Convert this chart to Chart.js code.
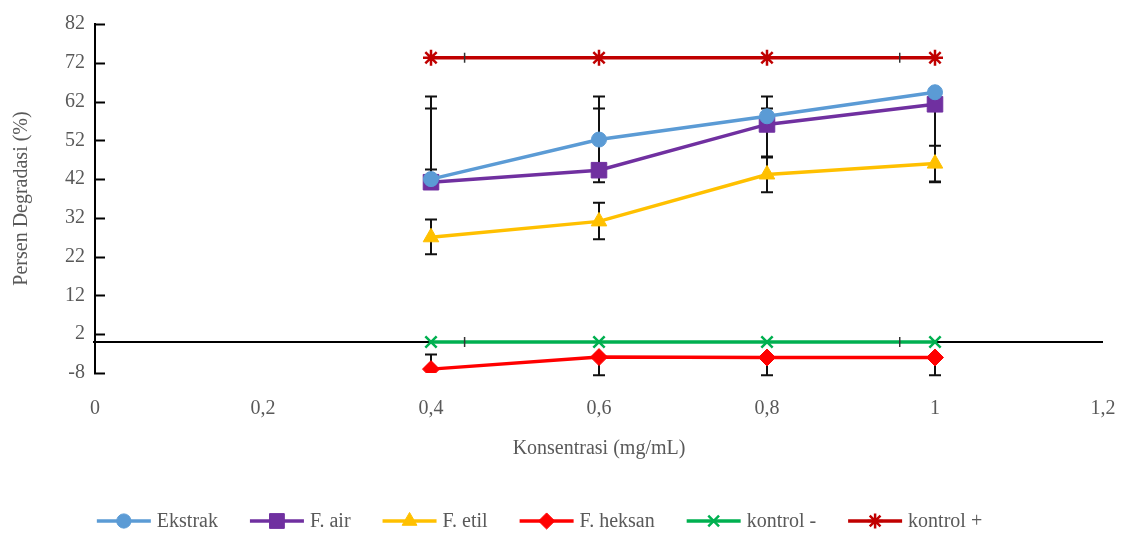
<!DOCTYPE html>
<html>
<head>
<meta charset="utf-8">
<script src="https://cdn.jsdelivr.net/npm/chart.js@4.4.1/dist/chart.umd.min.js"></script>
<style>
html,body{margin:0;padding:0;background:#fff;}
#wrap{width:1131px;height:537px;position:relative;}
</style>
</head>
<body>
<div id="wrap"><canvas id="c" width="1131" height="537"></canvas></div>
<script>
// ---- data ----
const xValues = [0.4, 0.6, 0.8, 1.0];
const ekstrak = [42, 52.2, 58.2, 64.4];
const fAir = [41.2, 44.3, 56.1, 61.3];
const fEtil = [27, 31.1, 43.2, 46];
const fHeksan = [-7, -3.9, -4, -4];
const kontrolMin = [0, 0, 0, 0];
const kontrolPlus = [73.3, 73.3, 73.3, 73.3];
// error bar ends [low, high]
const ekstrakErr = [[42, 63.3], [52.2, 63.3], [58.2, 63.3], [64.4, 64.4]];
const fAirErr = [[44.5, 60.2], [41.2, 60.2], [47.6, 60.2], [41.2, 61.3]];
const fEtilErr = [[22.6, 31.6], [26.5, 35.9], [38.6, 47.8], [41.4, 50.6]];
const fHeksanErr = [[-7, -3.2], [-8.6, -3.9], [-8.6, -4], [-8.6, -4]];
// horizontal error-bar caps seen on the control lines (x values)
const kontrolXCaps = [0.44, 0.958];
const seriesNames = ['Ekstrak', 'F. air', 'F. etil', 'F. heksan', 'kontrol -', 'kontrol +'];
const yTicks = [-8, 2, 12, 22, 32, 42, 52, 62, 72, 82];
const xTicks = [0, 0.2, 0.4, 0.6, 0.8, 1, 1.2];
const xTitle = 'Konsentrasi (mg/mL)';
const yTitle = 'Persen Degradasi (%)';

const FONT = "'Liberation Serif', 'Times New Roman', serif";
const FS = 20;
const TXT = '#595959';

function pts(vals){ return xValues.map((x,i)=>({x:x, y:vals[i]})); }

const styles = [
  {color:'#5B9BD5', pointStyle:'circle', radius:7.5},
  {color:'#7030A0', pointStyle:'rect', radius:11},
  {color:'#FFC000', pointStyle:'triangle', radius:9},
  {color:'#FF0000', pointStyle:'rectRot', radius:8.5},
  {color:'#00B050', pointStyle:'crossRot', radius:8},
  {color:'#C00000', pointStyle:'star', radius:8}
];
const allVals = [ekstrak, fAir, fEtil, fHeksan, kontrolMin, kontrolPlus];
const allErr = [ekstrakErr, fAirErr, fEtilErr, fHeksanErr, null, null];

const datasets = allVals.map((v,i)=>({
  label: seriesNames[i],
  data: pts(v),
  borderColor: styles[i].color,
  backgroundColor: styles[i].color,
  pointBackgroundColor: styles[i].color,
  pointBorderColor: styles[i].color,
  pointStyle: styles[i].pointStyle,
  pointRadius: styles[i].radius,
  pointBorderWidth: (styles[i].pointStyle==='crossRot'||styles[i].pointStyle==='star') ? 2.5 : 1,
  borderWidth: 3.5,
  tension: 0,
  fill: false,
  errBars: allErr[i],
  xCaps: (i >= 4) ? kontrolXCaps : null
}));

const decor = {
  id:'decor',
  beforeDatasetsDraw(chart){
    const ctx = chart.ctx, ys = chart.scales.y, xs = chart.scales.x, ca = chart.chartArea;
    ctx.save();
    // zero line
    const y0 = ys.getPixelForValue(0);
    ctx.strokeStyle = '#000'; ctx.lineWidth = 2;
    ctx.beginPath(); ctx.moveTo(ca.left - 2, y0); ctx.lineTo(ca.right, y0); ctx.stroke();
    // y tick marks
    yTicks.forEach(v=>{
      const yy = Math.round(ys.getPixelForValue(v)) + 0.5;
      ctx.beginPath(); ctx.moveTo(ca.left - 1, yy); ctx.lineTo(ca.left + 10, yy); ctx.stroke();
    });
    // error bars
    ctx.lineWidth = 2; ctx.strokeStyle = '#111';
    chart.data.datasets.forEach(ds=>{
      if(!ds.errBars) return;
      ds.errBars.forEach((e,i)=>{
        const px = xs.getPixelForValue(xValues[i]);
        const a = ys.getPixelForValue(e[0]), b = ys.getPixelForValue(e[1]);
        ctx.beginPath(); ctx.moveTo(px, a); ctx.lineTo(px, b);
        ctx.moveTo(px-6, a); ctx.lineTo(px+6, a);
        ctx.moveTo(px-6, b); ctx.lineTo(px+6, b);
        ctx.stroke();
      });
    });
    ctx.restore();
  },
  afterDatasetsDraw(chart){
    const ctx = chart.ctx, ys = chart.scales.y, xs = chart.scales.x;
    ctx.save();
    ctx.strokeStyle = '#333'; ctx.lineWidth = 1.5;
    chart.data.datasets.forEach(ds=>{
      if(!ds.xCaps) return;
      const yv = ys.getPixelForValue(ds.data[0].y);
      ds.xCaps.forEach(xv=>{
        const px = xs.getPixelForValue(xv);
        ctx.beginPath(); ctx.moveTo(px, yv-5); ctx.lineTo(px, yv+5); ctx.stroke();
      });
    });
    ctx.restore();
  },
  afterDraw(chart){
    // legend
    const ctx = chart.ctx;
    ctx.save();
    ctx.font = FS + "px " + FONT;
    const lineLen = 54, gapText = 6, gapItem = 32;
    const widths = seriesNames.map(n=>lineLen + gapText + ctx.measureText(n).width);
    const total = widths.reduce((a,b)=>a+b,0) + gapItem*(widths.length-1);
    let x = (chart.width - total)/2 - 26;
    const y = 521;
    seriesNames.forEach((n,i)=>{
      const st = styles[i];
      ctx.strokeStyle = st.color; ctx.fillStyle = st.color; ctx.lineWidth = 3.5;
      ctx.beginPath(); ctx.moveTo(x, y); ctx.lineTo(x+lineLen, y); ctx.stroke();
      ctx.lineWidth = (st.pointStyle==='crossRot'||st.pointStyle==='star') ? 2.5 : 1;
      Chart.helpers.drawPoint(ctx, {pointStyle: st.pointStyle, radius: st.radius*0.95, rotation:0, borderWidth: ctx.lineWidth}, x+lineLen/2, y);
      ctx.fillStyle = TXT; ctx.textBaseline = 'middle'; ctx.textAlign = 'left';
      ctx.fillText(n, x+lineLen+gapText, y+1);
      x += widths[i] + gapItem;
    });
    ctx.restore();
  }
};

new Chart(document.getElementById('c'), {
  type:'line',
  data:{datasets},
  options:{
    responsive:false,
    animation:false,
    devicePixelRatio:1,
    layout:{padding:{top:24, right:28, bottom:64, left:0}},
    plugins:{legend:{display:false}, tooltip:{enabled:false}},
    scales:{
      x:{
        type:'linear', min:0, max:1.2,
        afterFit(s){ s.height = 100; s.paddingLeft = 0; s.paddingRight = 0; },
        afterBuildTicks(s){ s.ticks = xTicks.map(v=>({value:v})); },
        grid:{display:false, drawTicks:false},
        border:{display:false},
        ticks:{padding:24, color:TXT, font:{family:FONT, size:FS}, maxRotation:0, autoSkip:false,
          callback:(v)=>String(v).replace('.', ',')},
        title:{display:true, text:xTitle, color:TXT, font:{family:FONT, size:FS}, padding:{top:0, bottom:12}}
      },
      y:{
        type:'linear', min:-8, max:82,
        afterFit(s){ s.width = 95; s.paddingTop = 0; s.paddingBottom = 0; },
        afterBuildTicks(s){ s.ticks = yTicks.map(v=>({value:v})); },
        grid:{display:false, drawTicks:false},
        border:{display:true, color:'#000', width:2},
        ticks:{padding:10, color:TXT, font:{family:FONT, size:FS}, autoSkip:false},
        title:{display:true, text:yTitle, color:TXT, font:{family:FONT, size:FS}, padding:{top:10, bottom:0}}
      }
    }
  },
  plugins:[decor]
});
</script>
</body>
</html>
